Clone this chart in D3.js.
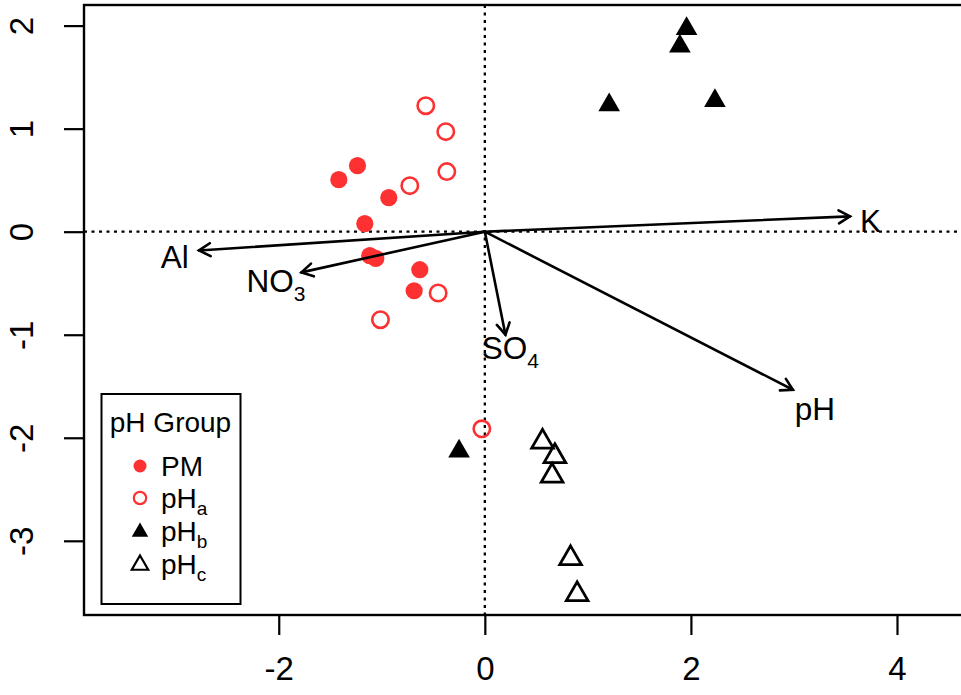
<!DOCTYPE html>
<html>
<head>
<meta charset="utf-8">
<script src="https://cdn.jsdelivr.net/npm/d3@7"></script>
<style>
  html, body { margin: 0; padding: 0; background: #fff; }
  svg { display: block; font-family: "Liberation Sans", Arial, Helvetica, sans-serif; }
</style>
</head>
<body>
<svg id="chart" width="961" height="695"></svg>
<script>
// Site scores per pH group (axis 1, axis 2)
const pmPoints = [
  [-1.417, 0.505], [-1.236, 0.641], [-0.932, 0.330], [-1.165, 0.078],
  [-1.117, -0.233], [-1.058, -0.259], [-0.631, -0.369], [-0.686, -0.573]
];
const phAPoints = [
  [-0.573, 1.223], [-0.379, 0.971], [-0.369, 0.583], [-0.728, 0.447],
  [-0.453, -0.595], [-1.013, -0.854], [-0.029, -1.913]
];
const phBPoints = [
  [1.958, 1.97], [1.893, 1.80], [1.207, 1.23], [2.233, 1.27], [-0.250, -2.13]
];
const phCPoints = [
  [0.560, -2.04], [0.680, -2.18], [0.653, -2.37], [0.832, -3.17], [0.896, -3.52]
];

// Environmental vectors: name, subscript, arrow tip, label position
const vectorNames = ["K", "Al", "NO", "SO", "pH"];
const vectorSubs  = ["", "", "3", "4", ""];
const vectorTips  = [[3.544, 0.149], [-2.774, -0.182], [-1.780, -0.395], [0.200, -1.000], [2.990, -1.534]];
const vectorLabelPos = [[3.743, 0.108], [-3.010, -0.243], [-2.026, -0.471], [0.248, -1.129], [3.204, -1.718]];

const xTicks = [-2, 0, 2, 4];
const yTicks = [-3, -2, -1, 0, 1, 2];

const legendTitle = "pH Group";
const legendLabels = [["PM", ""], ["pH", "a"], ["pH", "b"], ["pH", "c"]];

const RED = "#fd3131";
const FONT = "Liberation Sans, Arial, sans-serif";

const svg = d3.select("#chart");
const x = d3.scaleLinear().domain([-3.89, 4.66]).range([84, 965]);
const y = d3.scaleLinear().domain([2.2, -3.72]).range([5, 615]);

const frameLeft = 84, frameRight = 965, frameTop = 5, frameBottom = 615;

// Reference lines through the origin
const dotted = { "stroke": "#000", "stroke-width": 2.3, "stroke-dasharray": "3,4.5" };
const hline = svg.append("line")
  .attr("x1", frameLeft).attr("x2", frameRight).attr("y1", y(0)).attr("y2", y(0));
const vline = svg.append("line")
  .attr("x1", x(0)).attr("x2", x(0)).attr("y1", frameTop).attr("y2", frameBottom);
[hline, vline].forEach(l => Object.entries(dotted).forEach(([k, v]) => l.attr(k, v)));

// Point symbols
function trianglePath(R) {
  const h = R * Math.sqrt(3) / 2;
  return `M0,${-R}L${h},${R / 2}L${-h},${R / 2}Z`;
}

svg.append("g").selectAll("circle").data(pmPoints).join("circle")
  .attr("cx", d => x(d[0])).attr("cy", d => y(d[1])).attr("r", 8.6)
  .attr("fill", RED);

svg.append("g").selectAll("circle").data(phAPoints).join("circle")
  .attr("cx", d => x(d[0])).attr("cy", d => y(d[1])).attr("r", 8.2)
  .attr("fill", "none").attr("stroke", RED).attr("stroke-width", 2.6);

svg.append("g").selectAll("path").data(phBPoints).join("path")
  .attr("d", trianglePath(12.5))
  .attr("transform", d => `translate(${x(d[0])},${y(d[1])})`)
  .attr("fill", "#000");

svg.append("g").selectAll("path").data(phCPoints).join("path")
  .attr("d", trianglePath(12.5))
  .attr("transform", d => `translate(${x(d[0])},${y(d[1])})`)
  .attr("fill", "none").attr("stroke", "#000").attr("stroke-width", 2.8)
  .attr("stroke-linejoin", "miter");

// Vector arrows with open heads
const arrows = svg.append("g").attr("stroke", "#000").attr("stroke-width", 2.6)
  .attr("fill", "none").attr("stroke-linecap", "round");
vectorTips.forEach(t => {
  const x0 = x(0), y0 = y(0), x1 = x(t[0]), y1 = y(t[1]);
  arrows.append("line").attr("x1", x0).attr("y1", y0).attr("x2", x1).attr("y2", y1);
  const ang = Math.atan2(y1 - y0, x1 - x0);
  const len = 13, spread = Math.PI / 6;
  const p1 = [x1 - len * Math.cos(ang - spread), y1 - len * Math.sin(ang - spread)];
  const p2 = [x1 - len * Math.cos(ang + spread), y1 - len * Math.sin(ang + spread)];
  arrows.append("path").attr("d", `M${p1[0]},${p1[1]}L${x1},${y1}L${p2[0]},${p2[1]}`)
    .attr("stroke-linejoin", "miter");
});

// Vector labels
const labels = svg.append("g").attr("font-size", 31.5).attr("fill", "#000");
vectorNames.forEach((n, i) => {
  const p = vectorLabelPos[i];
  const t = labels.append("text")
    .attr("x", x(p[0])).attr("y", y(p[1])).attr("dy", "0.36em")
    .attr("text-anchor", "middle");
  t.append("tspan").text(n);
  if (vectorSubs[i]) {
    t.append("tspan").attr("font-size", 21).attr("dy", 9).text(vectorSubs[i]);
  }
});

// Frame
svg.append("rect").attr("x", frameLeft).attr("y", frameTop)
  .attr("width", frameRight - frameLeft).attr("height", frameBottom - frameTop)
  .attr("fill", "none").attr("stroke", "#000").attr("stroke-width", 2.4);

// Axes
const minus = d => d < 0 ? "-" + Math.abs(d) : String(d);

const xAxis = d3.axisBottom(x).tickValues(xTicks).tickSize(20).tickPadding(22)
  .tickFormat(minus);
const gx = svg.append("g").attr("transform", `translate(0,${frameBottom})`).call(xAxis);
gx.select(".domain").remove();
gx.selectAll(".tick line").attr("stroke-width", 2.2);
gx.selectAll(".tick text").attr("font-size", 33).attr("font-family", FONT).attr("fill", "#000");

const yAxis = d3.axisLeft(y).tickValues(yTicks).tickSize(20).tickFormat(minus);
const gy = svg.append("g").attr("transform", `translate(${frameLeft},0)`).call(yAxis);
gy.select(".domain").remove();
gy.selectAll(".tick line").attr("stroke-width", 2.2);
gy.selectAll(".tick text")
  .attr("x", null).attr("dy", "0.36em")
  .attr("transform", "translate(-63,0) rotate(-90)")
  .attr("text-anchor", "middle")
  .attr("font-size", 33).attr("font-family", FONT).attr("fill", "#000");

// Legend
const lg = svg.append("g");
lg.append("rect").attr("x", 101.5).attr("y", 394).attr("width", 139).attr("height", 210)
  .attr("fill", "#fff").attr("stroke", "#000").attr("stroke-width", 2);
lg.append("text").attr("x", 170.5).attr("y", 422).attr("dy", "0.36em")
  .attr("text-anchor", "middle").attr("font-size", 28).text(legendTitle);

const rowY = [466, 498, 531, 564];
const symX = 140, txtX = 161;
lg.append("circle").attr("cx", symX).attr("cy", rowY[0]).attr("r", 6.5).attr("fill", RED);
lg.append("circle").attr("cx", symX).attr("cy", rowY[1]).attr("r", 6.2)
  .attr("fill", "none").attr("stroke", RED).attr("stroke-width", 2.2);
lg.append("path").attr("d", trianglePath(9.5))
  .attr("transform", `translate(${symX},${rowY[2] + 1})`).attr("fill", "#000");
lg.append("path").attr("d", trianglePath(9.5))
  .attr("transform", `translate(${symX},${rowY[3] + 1})`)
  .attr("fill", "none").attr("stroke", "#000").attr("stroke-width", 2.2);

legendLabels.forEach((l, i) => {
  const t = lg.append("text").attr("x", txtX).attr("y", rowY[i]).attr("dy", "0.36em")
    .attr("font-size", 28);
  t.append("tspan").text(l[0]);
  if (l[1]) t.append("tspan").attr("font-size", 19).attr("dy", 7).text(l[1]);
});
</script>
</body>
</html>
